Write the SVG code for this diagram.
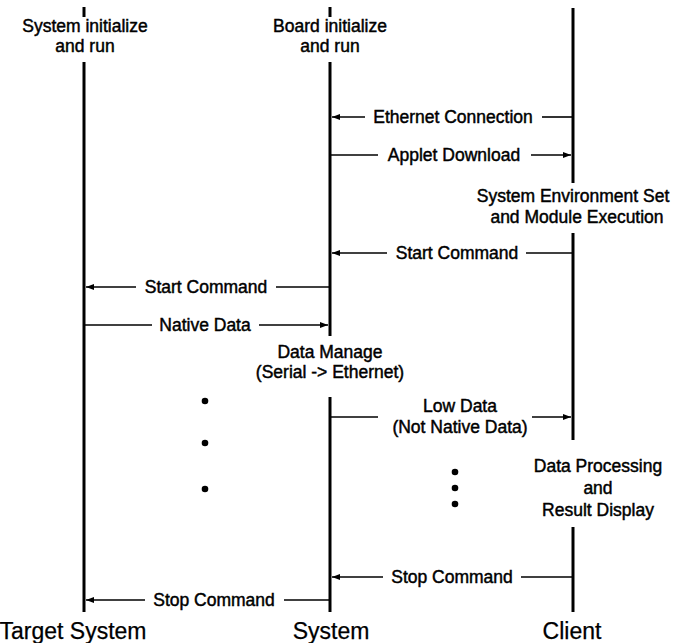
<svg xmlns="http://www.w3.org/2000/svg" width="677" height="643" viewBox="0 0 677 643">
  <defs>
    <marker id="head" markerWidth="9" markerHeight="8" refX="8" refY="4" orient="auto" markerUnits="userSpaceOnUse">
      <path d="M0,1 L8,4 L0,7 Z" fill="#000"/>
    </marker>
    <style>
      .life { stroke: #000; stroke-width: 3; fill: none; }
      .msg { stroke: #000; stroke-width: 1.6; fill: none; }
      .arr { stroke: #000; stroke-width: 1.6; fill: none; marker-end: url(#head); }
      text { font-family: "Liberation Sans", Arial, sans-serif; font-size: 17.5px; fill: #000; stroke: #000; stroke-width: 0.45; text-anchor: middle; }
      .big { font-size: 23px; stroke-width: 0.25; }
      .dot { fill: #000; }
    </style>
  </defs>
  <rect width="677" height="643" fill="#fff"/>

  <!-- lifelines -->
  <g id="target-system">
    <line class="life" x1="84" y1="7" x2="84" y2="17"/>
    <text x="85" y="32">System initialize</text>
    <text x="85" y="52">and run</text>
    <line class="life" x1="84" y1="62" x2="84" y2="612"/>
    <text class="big" x="73" y="639">Target System</text>
  </g>
  <g id="system">
    <line class="life" x1="330" y1="7" x2="330" y2="17"/>
    <text x="330" y="32">Board initialize</text>
    <text x="330" y="52">and run</text>
    <line class="life" x1="330" y1="62" x2="330" y2="336"/>
    <text x="330" y="358">Data Manage</text>
    <text x="330" y="378">(Serial -&gt; Ethernet)</text>
    <line class="life" x1="330" y1="397" x2="330" y2="612"/>
    <text class="big" x="331" y="639">System</text>
  </g>
  <g id="client">
    <line class="life" x1="573" y1="8" x2="573" y2="183"/>
    <text x="573" y="202">System Environment Set</text>
    <text x="577" y="223">and Module Execution</text>
    <line class="life" x1="573" y1="233" x2="573" y2="440"/>
    <text x="598" y="472">Data Processing</text>
    <text x="598" y="494">and</text>
    <text x="598" y="516">Result Display</text>
    <line class="life" x1="573" y1="527" x2="573" y2="612"/>
    <text class="big" x="572" y="639">Client</text>
  </g>

  <!-- continuation dots -->
  <g id="dots">
    <circle class="dot" cx="205" cy="401" r="3.3"/>
    <circle class="dot" cx="205" cy="443" r="3.3"/>
    <circle class="dot" cx="205" cy="489" r="3.3"/>
    <circle class="dot" cx="455" cy="472" r="3.3"/>
    <circle class="dot" cx="455" cy="488" r="3.3"/>
    <circle class="dot" cx="455" cy="504" r="3.3"/>
  </g>

  <!-- messages -->
  <g id="connectors">
    <line class="msg" x1="572" y1="117" x2="542" y2="117"/>
    <line class="arr" x1="365" y1="117" x2="332" y2="117"/>
    <text x="453" y="123">Ethernet Connection</text>

    <line class="msg" x1="331" y1="155" x2="378" y2="155"/>
    <line class="arr" x1="531" y1="155" x2="571" y2="155"/>
    <text x="454" y="161">Applet Download</text>

    <line class="msg" x1="572" y1="253" x2="526" y2="253"/>
    <line class="arr" x1="387" y1="253" x2="332" y2="253"/>
    <text x="457" y="259">Start Command</text>

    <line class="msg" x1="329" y1="287" x2="276" y2="287"/>
    <line class="arr" x1="136" y1="287" x2="86" y2="287"/>
    <text x="206" y="293">Start Command</text>

    <line class="msg" x1="85" y1="325" x2="152" y2="325"/>
    <line class="arr" x1="259" y1="325" x2="328" y2="325"/>
    <text x="205" y="331">Native Data</text>

    <line class="msg" x1="331" y1="417" x2="378" y2="417"/>
    <line class="arr" x1="532" y1="417" x2="571" y2="417"/>
    <text x="460" y="412">Low Data</text>
    <text x="460" y="433">(Not Native Data)</text>

    <line class="msg" x1="572" y1="577" x2="521" y2="577"/>
    <line class="arr" x1="383" y1="577" x2="332" y2="577"/>
    <text x="452" y="583">Stop Command</text>

    <line class="msg" x1="329" y1="600" x2="284" y2="600"/>
    <line class="arr" x1="145" y1="600" x2="86" y2="600"/>
    <text x="214" y="606">Stop Command</text>
  </g>
</svg>
